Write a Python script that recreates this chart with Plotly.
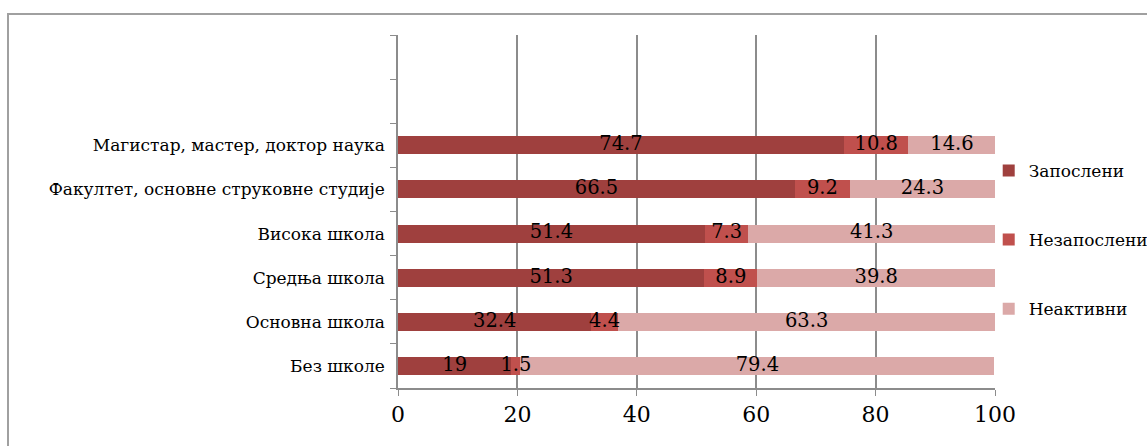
import plotly.graph_objects as go

categories = ["Без школе", "Основна школа", "Средња школа", "Висока школа",
              "Факултет, основне струковне студије", "Магистар, мастер, доктор наука"]
empty_slots = [" ", "  "]
series_names = ["Запослени", "Незапослени", "Неактивни"]
zaposleni = [19, 32.4, 51.3, 51.4, 66.5, 74.7]
nezaposleni = [1.5, 4.4, 8.9, 7.3, 9.2, 10.8]
neaktivni = [79.4, 63.3, 39.8, 41.3, 24.3, 14.6]
x_ticks = [0, 20, 40, 60, 80, 100]

colors = ["#9F403E", "#C0504D", "#DBA9A8"]
W, H = 1147, 446
FONT = "DejaVu Serif"

series = [zaposleni, nezaposleni, neaktivni]
fig = go.Figure()
for i, (name, vals) in enumerate(zip(series_names, series)):
    fig.add_trace(go.Bar(
        y=categories, x=vals, name=name, orientation="h",
        marker=dict(color=colors[i], line=dict(width=0)),
        legendgroup=name, hoverinfo="skip",
    ))

# data labels drawn on top of all bars, centred in each segment
base = [0] * len(categories)
for i, vals in enumerate(series):
    mids = [b + v / 2 for b, v in zip(base, vals)]
    fig.add_trace(go.Scatter(
        y=categories, x=mids, mode="text", text=[f"{v:g}" for v in vals],
        textposition="middle center",
        textfont=dict(family=FONT, size=19.5, color="black"),
        showlegend=False, hoverinfo="skip", cliponaxis=False,
    ))
    base = [b + v for b, v in zip(base, vals)]

x0p, x1p = 398 / W, 995 / W
y0p, y1p = (H - 388) / H, (H - 35) / H

fig.update_layout(
    width=W, height=H, barmode="stack", bargap=0.59,
    margin=dict(l=0, r=0, t=0, b=0, autoexpand=False),
    paper_bgcolor="white", plot_bgcolor="white",
    font=dict(family=FONT, color="black"),
    xaxis=dict(domain=[x0p, x1p], range=[0, 100], tickvals=x_ticks,
               showgrid=True, gridcolor="#8C8C8C", gridwidth=1.5,
               showline=True, linecolor="#8C8C8C", linewidth=1.5,
               ticks="outside", ticklen=6, tickcolor="#8C8C8C",
               tickfont=dict(size=22, family=FONT), zeroline=False,
               automargin=False, fixedrange=True),
    yaxis=dict(domain=[y0p, y1p], type="category",
               categoryorder="array", categoryarray=categories + empty_slots,
               range=[-0.5, 7.5], tickson="boundaries",
               showline=True, linecolor="#8C8C8C", linewidth=1.5,
               ticks="outside", ticklen=6, tickcolor="#8C8C8C",
               ticklabelstandoff=8,
               showgrid=False, tickfont=dict(size=17, family=FONT),
               automargin=False, fixedrange=True),
    legend=dict(x=0.862, y=0.462, xanchor="left", yanchor="middle",
                traceorder="grouped", tracegroupgap=44,
                font=dict(size=17, family=FONT), bgcolor="rgba(0,0,0,0)"),
    shapes=[dict(type="rect", xref="paper", yref="paper",
                 x0=8 / W, x1=1.05, y0=-0.1, y1=(H - 14) / H,
                 line=dict(color="#A0A0A0", width=2), layer="below")],
)

fig.write_html("out.html")
